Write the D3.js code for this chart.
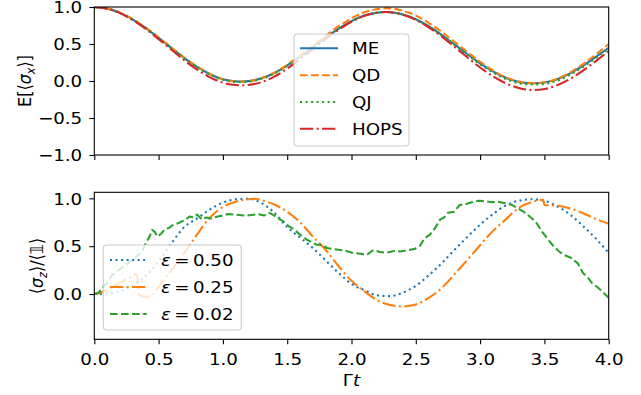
<!DOCTYPE html>
<html><head><meta charset="utf-8">
<script src="https://cdn.jsdelivr.net/npm/d3@7"></script>
<style>body{margin:0;background:#fff} text{font-family:"DejaVu Sans",sans-serif;fill:#000}</style>
</head><body><svg id="c" width="641" height="395"></svg>
<script>
// ---------- DATA ----------
const tTop = [0,0.1,0.2,0.3,0.4,0.5,0.6,0.7,0.8,0.9,1.0,1.1,1.2,1.3,1.4,1.5,1.6,1.7,1.8,1.9,2.0,2.1,2.2,2.3,2.4,2.5,2.6,2.7,2.8,2.9,3.0,3.1,3.2,3.3,3.4,3.5,3.6,3.7,3.8,3.9,4.0];
const me   = [1.000,0.978,0.920,0.829,0.715,0.583,0.445,0.310,0.190,0.092,0.024,-0.005,-0.002,0.036,0.108,0.211,0.332,0.460,0.590,0.709,0.810,0.884,0.924,0.930,0.898,0.834,0.740,0.625,0.497,0.365,0.239,0.130,0.044,-0.012,-0.030,-0.021,0.025,0.104,0.207,0.325,0.449];
const qd   = [1.000,0.980,0.924,0.835,0.721,0.590,0.451,0.315,0.194,0.094,0.025,-0.006,-0.003,0.037,0.112,0.219,0.345,0.478,0.615,0.741,0.848,0.928,0.972,0.981,0.949,0.884,0.786,0.666,0.531,0.392,0.258,0.142,0.050,-0.008,-0.028,-0.018,0.030,0.116,0.229,0.359,0.500];
const qj   = [1.000,0.978,0.920,0.829,0.714,0.582,0.443,0.307,0.186,0.087,0.018,-0.012,-0.009,0.029,0.101,0.204,0.326,0.455,0.586,0.706,0.808,0.882,0.924,0.930,0.898,0.833,0.737,0.620,0.490,0.355,0.226,0.115,0.026,-0.031,-0.048,-0.038,0.005,0.085,0.189,0.311,0.438];
const hops = [1.000,0.977,0.917,0.823,0.704,0.566,0.422,0.280,0.153,0.049,-0.023,-0.055,-0.053,-0.015,0.060,0.168,0.295,0.430,0.567,0.694,0.801,0.880,0.923,0.930,0.896,0.827,0.726,0.602,0.463,0.320,0.183,0.063,-0.031,-0.094,-0.122,-0.108,-0.057,0.028,0.140,0.269,0.405];

const tBlue = [0,0.1,0.2,0.3,0.4,0.5,0.6,0.7,0.8,0.9,1.0,1.1,1.2,1.3,1.4,1.5,1.6,1.7,1.8,1.9,2.0,2.1,2.2,2.3,2.4,2.5,2.6,2.7,2.8,2.9,3.0,3.1,3.2,3.3,3.4,3.5,3.6,3.7,3.8,3.9,4.0];
const eps50 = [0,0.005,0.03,0.09,0.19,0.34,0.53,0.70,0.79,0.885,0.955,0.99,0.995,0.95,0.85,0.70,0.59,0.48,0.35,0.22,0.105,0.04,-0.014,-0.022,0.015,0.085,0.195,0.32,0.46,0.595,0.725,0.835,0.925,0.975,0.99,0.975,0.915,0.83,0.71,0.58,0.43];

const tOrange = [0,0.1,0.2,0.3,0.33,0.35,0.4,0.45,0.5,0.6,0.7,0.78,0.9,1.0,1.1,1.2,1.25,1.3,1.4,1.5,1.6,1.7,1.8,1.9,2.0,2.1,2.2,2.3,2.4,2.5,2.6,2.7,2.8,2.9,3.0,3.1,3.2,3.3,3.4,3.49,3.5,3.58,3.7,3.8,3.9,4.0];
const eps25 = [0,0.04,0.12,0.19,0.21,-0.01,-0.03,-0.01,0.076,0.25,0.43,0.585,0.80,0.91,0.965,0.99,0.995,0.98,0.935,0.86,0.75,0.60,0.46,0.29,0.14,0.03,-0.065,-0.115,-0.13,-0.11,-0.04,0.06,0.205,0.355,0.51,0.66,0.78,0.90,0.96,0.985,0.93,0.925,0.895,0.845,0.785,0.735];

const tGreen = [0,0.03,0.06,0.1,0.14,0.19,0.24,0.3,0.37,0.40,0.43,0.45,0.47,0.49,0.52,0.55,0.58,0.61,0.65,0.70,0.74,0.77,0.80,0.835,0.87,0.91,0.96,1.0,1.04,1.1,1.17,1.22,1.275,1.32,1.36,1.40,1.43,1.47,1.51,1.56,1.6,1.65,1.73,1.78,1.81,1.86,1.91,1.96,2.01,2.07,2.12,2.17,2.22,2.27,2.33,2.38,2.44,2.49,2.53,2.57,2.61,2.65,2.69,2.72,2.75,2.80,2.84,2.89,2.935,2.99,3.04,3.09,3.14,3.19,3.25,3.3,3.35,3.43,3.48,3.52,3.57,3.61,3.65,3.71,3.76,3.80,3.84,3.87,3.92,3.97,4.0];
const eps02 = [0,0.01,0.06,0.12,0.2,0.25,0.30,0.36,0.44,0.53,0.60,0.67,0.65,0.60,0.63,0.68,0.69,0.72,0.74,0.77,0.81,0.80,0.83,0.78,0.80,0.79,0.81,0.82,0.835,0.83,0.82,0.825,0.835,0.82,0.85,0.82,0.79,0.76,0.71,0.67,0.62,0.57,0.515,0.51,0.48,0.47,0.46,0.45,0.43,0.42,0.41,0.46,0.44,0.43,0.45,0.445,0.46,0.47,0.50,0.585,0.62,0.69,0.78,0.80,0.85,0.86,0.93,0.94,0.96,0.975,0.97,0.96,0.965,0.95,0.93,0.89,0.85,0.76,0.655,0.585,0.50,0.45,0.41,0.376,0.32,0.22,0.17,0.115,0.063,0.0,-0.04];

const xTicks = [0,0.5,1,1.5,2,2.5,3,3.5,4];
const yTopTicks = [-1,-0.5,0,0.5,1];
const yBotTicks = [0,0.5,1];
const topLabels = ["ME","QD","QJ","HOPS"];
const botLabels = ["0.50","0.25","0.02"];

// ---------- STYLE ----------
const FS = 16, SX = 1.14, LW = 2.08;
const C = {blue:"#1f77b4", orange:"#ff7f0e", green:"#2ca02c", red:"#d62728"};
const DASH = {solid:null, dashed:"7.7,3.33", dotted:"2.08,3.44", dashdot:"13.3,3.33,2.08,3.33"};

const svg = d3.select("#c");
const X0 = 94.3, X1 = 608.7;
const x = d3.scaleLinear([0,4],[X0,X1]);
const yT = d3.scaleLinear([-1,1],[155,7]);
const yB = d3.scaleLinear([-0.473,1.063],[339.3,192.3]);

const defs = svg.append("defs");
defs.append("clipPath").attr("id","clipT").append("rect").attr("x",X0).attr("y",7).attr("width",X1-X0).attr("height",148);
defs.append("clipPath").attr("id","clipB").append("rect").attr("x",X0).attr("y",192.3).attr("width",X1-X0).attr("height",147);

function drawLine(g, ts, vs, y, color, dash, curve, clip){
  const data = ts.map((t,i)=>[t,vs[i]]);
  g.append("path").datum(data)
    .attr("d", d3.line().x(d=>x(d[0])).y(d=>y(d[1])).curve(curve))
    .attr("fill","none").attr("stroke",color).attr("stroke-width",LW)
    .attr("stroke-dasharray",dash).attr("stroke-linecap", dash? "butt":"square")
    .attr("stroke-linejoin","round")
    .attr("clip-path",`url(#${clip})`);
}

// text with horizontal stretch
function stext(parent, px, py, extra){
  return parent.append("text")
    .attr("transform",`translate(${px},${py}) scale(${SX},1)${extra||""}`)
    .attr("font-size",FS);
}

// top panel lines
const gT = svg.append("g");
drawLine(gT, tTop, me, yT, C.blue, DASH.solid, d3.curveNatural, "clipT");
drawLine(gT, tTop, qd, yT, C.orange, DASH.dashed, d3.curveNatural, "clipT");
drawLine(gT, tTop, qj, yT, C.green, DASH.dotted, d3.curveNatural, "clipT");
drawLine(gT, tTop, hops, yT, C.red, DASH.dashdot, d3.curveNatural, "clipT");

// bottom lines
const gB = svg.append("g");
drawLine(gB, tBlue, eps50, yB, C.blue, DASH.dotted, d3.curveMonotoneX, "clipB");
drawLine(gB, tOrange, eps25, yB, C.orange, DASH.dashdot, d3.curveMonotoneX, "clipB");
drawLine(gB, tGreen, eps02, yB, C.green, DASH.dashed, d3.curveLinear, "clipB");

// axes
function styleAxis(g){
  g.select(".domain").remove();
  g.selectAll(".tick line").attr("stroke","#000").attr("stroke-width",1.1);
  g.selectAll(".tick text").each(function(){
    const t = d3.select(this);
    const xx = +t.attr("x") || 0, yy = +t.attr("y") || 0;
    t.attr("x",null).attr("y",null)
     .attr("transform",`translate(${xx},${yy}) scale(${SX},1)`)
     .attr("font-size",FS).attr("font-family","DejaVu Sans").attr("fill","#000");
  });
}
const fmt = d3.format(".1f");
svg.append("g").attr("transform","translate(0,155)")
  .call(d3.axisBottom(x).tickValues(xTicks).tickSize(4.9).tickFormat("")).call(styleAxis);
svg.append("g").attr("transform","translate(0,339.3)")
  .call(g=>{ g.call(d3.axisBottom(x).tickValues(xTicks).tickSize(4.9).tickPadding(8.8).tickFormat(fmt)); g.selectAll(".tick text").attr("dy","0.73em"); })
  .call(styleAxis);
svg.append("g").attr("transform",`translate(${X0},0)`)
  .call(g=>{ g.call(d3.axisLeft(yT).tickValues(yTopTicks).tickSize(4.9).tickPadding(7.2).tickFormat(fmt)); g.selectAll(".tick text").attr("dy","0.36em"); })
  .call(styleAxis);
svg.append("g").attr("transform",`translate(${X0},0)`)
  .call(g=>{ g.call(d3.axisLeft(yB).tickValues(yBotTicks).tickSize(4.9).tickPadding(7.2).tickFormat(fmt)); g.selectAll(".tick text").attr("dy","0.36em"); })
  .call(styleAxis);

// spines
svg.append("rect").attr("x",X0).attr("y",7).attr("width",X1-X0).attr("height",148)
  .attr("fill","none").attr("stroke","#000").attr("stroke-width",1.1);
svg.append("rect").attr("x",X0).attr("y",192.3).attr("width",X1-X0).attr("height",147)
  .attr("fill","none").attr("stroke","#000").attr("stroke-width",1.1);

// axis labels
const yl1 = stext(svg, 31, 81, " rotate(-90)").attr("text-anchor","middle");
yl1.append("tspan").text("E[⟨");
yl1.append("tspan").attr("font-style","italic").text("σ");
yl1.append("tspan").attr("font-style","italic").attr("font-size",FS*0.7).attr("dy",3.5).text("x");
yl1.append("tspan").attr("dy",-3.5).text("⟩]");

const yl2 = stext(svg, 43, 266, " rotate(-90)").attr("text-anchor","middle");
yl2.append("tspan").text("⟨");
yl2.append("tspan").attr("font-style","italic").text("σ");
yl2.append("tspan").attr("font-style","italic").attr("font-size",FS*0.7).attr("dy",3.5).text("z");
yl2.append("tspan").attr("dy",-3.5).text("⟩/⟨𝟙⟩");

const xl = stext(svg, 351.5, 386).attr("text-anchor","middle");
xl.append("tspan").text("Γ");
xl.append("tspan").attr("font-style","italic").text("t");

// legends
function legendBox(x0,y0,w,h){
  svg.append("rect").attr("x",x0).attr("y",y0).attr("width",w).attr("height",h)
    .attr("rx",3.5).attr("ry",3.5).attr("fill","#fff").attr("fill-opacity",0.8)
    .attr("stroke","#cccccc").attr("stroke-width",1.1);
}
legendBox(294,34,115,112);
const topStyles = [[C.blue,DASH.solid],[C.orange,DASH.dashed],[C.green,DASH.dotted],[C.red,DASH.dashdot]];
const topRowY = [48.3,75.3,102,128.7];
topLabels.forEach((lab,i)=>{
  svg.append("line").attr("x1",300).attr("x2",338).attr("y1",topRowY[i]).attr("y2",topRowY[i])
    .attr("stroke",topStyles[i][0]).attr("stroke-width",LW).attr("stroke-dasharray",topStyles[i][1]);
  stext(svg, 352, topRowY[i]+5.8).text(lab);
});

legendBox(103.3,245,138,85);
const botStyles = [[C.blue,DASH.dotted],[C.orange,DASH.dashdot],[C.green,DASH.dashed]];
const botRowY = [260,287,314];
botLabels.forEach((lab,i)=>{
  svg.append("line").attr("x1",110).attr("x2",146.7).attr("y1",botRowY[i]).attr("y2",botRowY[i])
    .attr("stroke",botStyles[i][0]).attr("stroke-width",LW).attr("stroke-dasharray",botStyles[i][1]);
  const t = stext(svg, 161, botRowY[i]+5.8);
  t.append("tspan").attr("font-style","italic").text("ε");
  t.append("tspan").attr("dx",3).text("=");
  t.append("tspan").attr("dx",3).text(lab);
});
</script></body></html>
